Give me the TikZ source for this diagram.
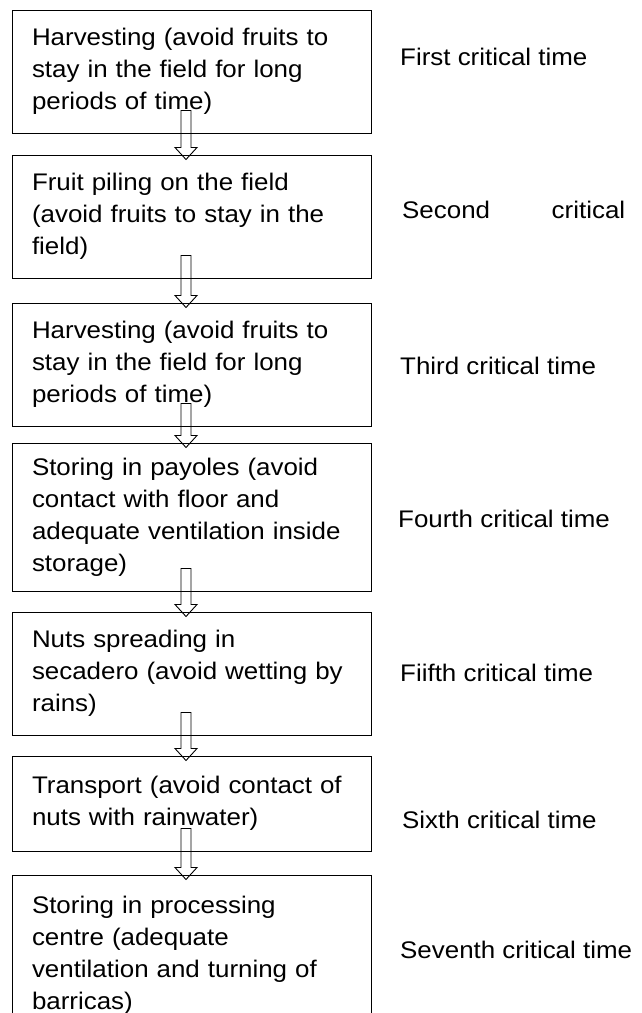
\documentclass[tikz,border=0pt]{standalone}
\usepackage{fontspec}
\setmainfont{Liberation Sans}[FakeStretch=1.08]
\usetikzlibrary{calc}

\begin{document}
\begin{tikzpicture}[line join=miter,
  stage/.style={draw,line width=1bp,inner xsep=20bp,inner ysep=0bp,text width=319bp,align=left,
    font=\fontsize{24bp}{32bp}\selectfont},
  note/.style={anchor=west,inner sep=0bp,font=\fontsize{24bp}{32bp}\selectfont},
  hollow/.style={draw,line width=0.9bp}]
%%
  \useasboundingbox (0bp,0bp) rectangle (642bp,-1013bp);
  \node (s1) at (191.5bp,-71.5bp) [stage,minimum height=123bp] {Harvesting (avoid fruits to\\ stay in the field for long\\ periods of time)};
  \node (s2) at (191.5bp,-216.5bp) [stage,minimum height=123bp] {Fruit piling on the field\\ (avoid fruits to stay in the\\ field)};
  \node (s3) at (191.5bp,-364.5bp) [stage,minimum height=123bp] {Harvesting (avoid fruits to\\ stay in the field for long\\ periods of time)};
  \node (s4) at (191.5bp,-517bp) [stage,minimum height=148bp] {Storing in payoles (avoid\\ contact with floor and\\ adequate ventilation inside\\ storage)};
  \node (s5) at (191.5bp,-673.5bp) [stage,minimum height=123bp] {Nuts spreading in\\ secadero (avoid wetting by\\ rains)};
  \node (s6) at (191.5bp,-803.5bp) [stage,minimum height=95bp] {Transport (avoid contact of\\ nuts with rainwater)};
  \node (s7) at (191.5bp,-955bp) [stage,minimum height=160bp] {Storing in processing\\ centre (adequate\\ ventilation and turning of\\ barricas)};
%
  \node (t1) at (400bp,-57bp) [note] {First critical time};
  \node (t2) at (402bp,-210bp) [note] {\makebox[223bp][s]{Second critical}};
  \node (t3) at (400bp,-366bp) [note] {Third critical time};
  \node (t4) at (398bp,-519bp) [note] {Fourth critical time};
  \node (t5) at (400bp,-673bp) [note] {Fiifth critical time};
  \node (t6) at (402bp,-820bp) [note] {Sixth critical time};
  \node (t7) at (400bp,-950bp) [note] {Seventh critical time};
%
  \foreach \a/\b in {s1/s2,s2/s3,s3/s4,s4/s5,s5/s6,s6/s7}
    \draw [hollow] let \p1=($(\a.south)+(-5.5bp,23bp)$), \p2=($(\b.north)+(-5.5bp,-5bp)$) in
      (\x1-5bp,\y1) -- (\x1-5bp,\y2+12bp) -- (\x1-11bp,\y2+12bp) -- (\x2,\y2)
      -- (\x1+11bp,\y2+12bp) -- (\x1+5bp,\y2+12bp) -- (\x1+5bp,\y1) -- cycle;
%
\end{tikzpicture}
\end{document}
